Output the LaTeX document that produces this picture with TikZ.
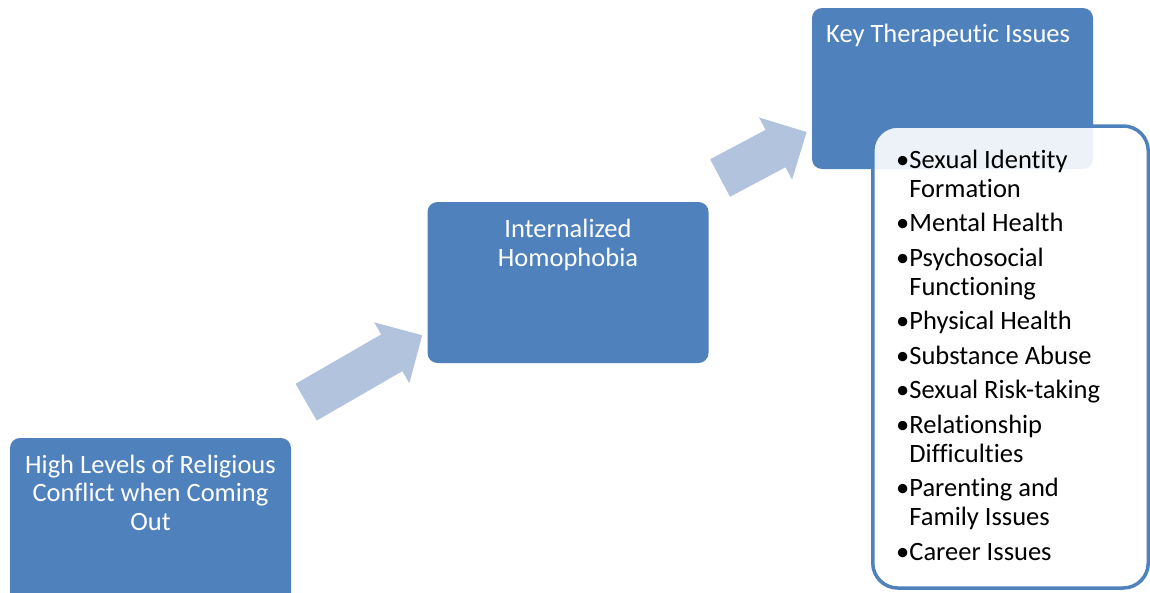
\documentclass[tikz,border=0pt]{standalone}
\usepackage{fontspec}
\setmainfont{Carlito}[Ligatures=NoCommon]
\usetikzlibrary{positioning,shapes.arrows}
\definecolor{boxblue}{RGB}{79,129,189}
\definecolor{arrblue}{RGB}{178,195,222}
\newcommand{\lbul}{\textbullet}

\begin{document}
\begin{tikzpicture}[x=1pt,y=-1pt,
    blk/.style={rectangle,rounded corners=10pt,fill=boxblue,minimum width=281pt,minimum height=161pt,inner sep=0pt},
    ttl/.style={text=white,font=\fontsize{26.5}{28.5}\selectfont,align=center,inner sep=0pt},
    blkarr/.style={single arrow,fill=arrblue,single arrow head extend=14pt,single arrow tip angle=90,inner xsep=0pt,inner ysep=21pt,minimum height=134pt,outer sep=0pt},
    lst/.style={text=black,font=\fontsize{26.5}{29}\selectfont,align=left,inner sep=0pt}]
  \useasboundingbox (0,0) rectangle (1150,592);

  % arrows
  \node[blkarr,rotate=30] (ar1) at (355,374) {};
  \node[blkarr,rotate=28,minimum height=98pt] (ar2) at (754,160) {};

  % boxes
  \node[blk,minimum height=172pt] (conf) at (150.5,524) {};
  \node[blk] (homo) at (568,282.5) {};
  \node[blk] (key) at (952.5,88.5) {};

  \node[ttl,anchor=base] (conftxt) at (150.5,530) {High Levels of Religious\\Conflict when Coming\\Out};
  \node[ttl,anchor=base] (homotxt) at (568,266) {Internalized\\Homophobia};
  \node[ttl,anchor=base west] (keytxt) at (826,42) {Key Therapeutic Issues};

  % list of issues
  \node[draw=boxblue,line width=3.5pt,fill=white,fill opacity=0.9,rounded corners=25pt,
        minimum width=275.5pt,minimum height=462pt] (iss) at (1010.5,357) {};
  \node[lst,anchor=base west] (isstxt) at (896,560) {\lbul Sexual Identity\\\hphantom{\lbul}Formation\\[5.5pt]
    \lbul Mental Health\\[5.5pt]
    \lbul Psychosocial\\\hphantom{\lbul}Functioning\\[5.5pt]
    \lbul Physical Health\\[5.5pt]
    \lbul Substance Abuse\\[5.5pt]
    \lbul Sexual Risk-taking\\[5.5pt]
    \lbul Relationship\\\hphantom{\lbul}Difficulties\\[5.5pt]
    \lbul Parenting and\\\hphantom{\lbul}Family Issues\\[5.5pt]
    \lbul Career Issues};
\end{tikzpicture}
\end{document}
